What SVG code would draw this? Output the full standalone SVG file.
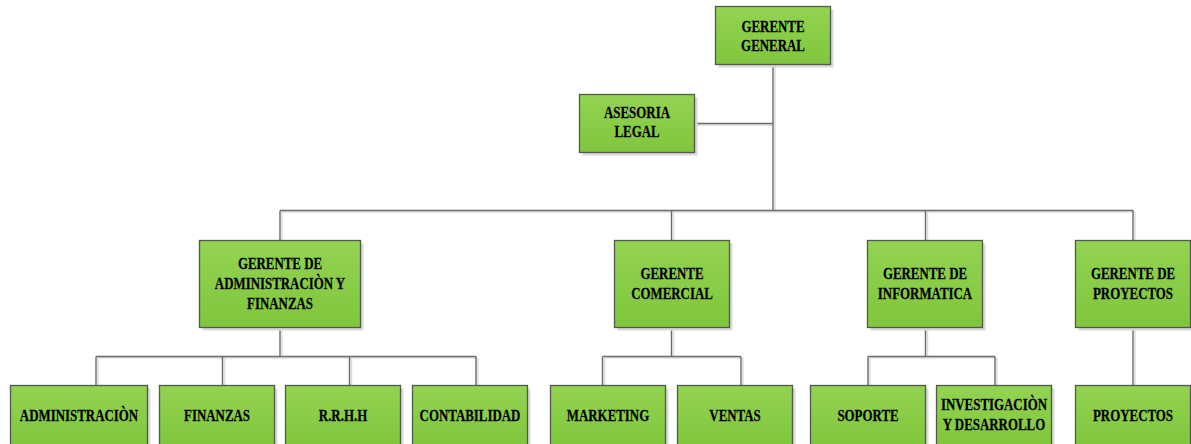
<svg xmlns="http://www.w3.org/2000/svg" width="1191" height="444" viewBox="0 0 1191 444">
<defs>
<linearGradient id="g" x1="0" y1="0" x2="0" y2="1">
<stop offset="0" stop-color="#93d352"/>
<stop offset="1" stop-color="#80c63c"/>
</linearGradient>
<style>
.box{fill:url(#g);stroke:#4f5a48;stroke-width:1.3}
.sh{fill:#d9d9d9}
.ln{fill:none;stroke:#6a6a6a;stroke-width:1.4}
.lns{fill:none;stroke:#dcdcdc;stroke-width:1.4}
.t{font-family:"Liberation Serif","Times New Roman",serif;font-weight:bold;font-size:17px;fill:#000;stroke:#000;stroke-width:0.25;text-anchor:middle}
</style>
</defs>
<rect width="1191" height="444" fill="#fff"/>
<g id="connectors">
<path class="lns" d="M775,66 V212 M696,125 H773 M282,212 H1135 M282,212 V242 M673.5,212 V242 M927.5,212 V242 M1135,212 V242 M282,329 V358 M98,358 H478 M98,358 V387 M224.5,358 V387 M351.5,358 V387 M478,358 V387 M673.5,329 V358 M604.5,358 H743 M604.5,358 V387 M743,358 V387 M927.5,329 V358 M870,358 H997 M870,358 V387 M997,358 V387 M1135,329 V387"/>
<path class="ln" d="M773,64.5 V210.5 M694.5,123.5 H773 M280,210.5 H1133 M280,210.5 V240.5 M671.5,210.5 V240.5 M925.5,210.5 V240.5 M1133,210.5 V240.5 M280,327.5 V356.5 M96,356.5 H476 M96,356.5 V385.5 M222.5,356.5 V385.5 M349.5,356.5 V385.5 M476,356.5 V385.5 M671.5,327.5 V356.5 M602.5,356.5 H741 M602.5,356.5 V385.5 M741,356.5 V385.5 M925.5,327.5 V356.5 M868,356.5 H995 M868,356.5 V385.5 M995,356.5 V385.5 M1133,327.5 V385.5"/>
</g>
<g id="gerente-general">
<rect class="sh" x="718.5" y="9.5" width="115" height="58"/>
<rect class="box" x="715.5" y="6.5" width="115" height="58"/>
<g transform="translate(773,0) scale(0.76,1)"><text class="t" x="0" y="31.7">GERENTE</text><text class="t" x="0" y="50.7">GENERAL</text></g>
</g>
<g id="asesoria-legal">
<rect class="sh" x="582.5" y="97.5" width="115" height="58"/>
<rect class="box" x="579.5" y="94.5" width="115" height="58"/>
<g transform="translate(637,0) scale(0.76,1)"><text class="t" x="0" y="118.3">ASESORIA</text><text class="t" x="0" y="137.3">LEGAL</text></g>
</g>
<g id="gerente-administracion">
<rect class="sh" x="202.5" y="243.5" width="161" height="87"/>
<rect class="box" x="199.5" y="240.5" width="161" height="87"/>
<g transform="translate(280,0) scale(0.76,1)"><text class="t" x="0" y="269">GERENTE DE</text><text class="t" x="0" y="289.3">ADMINISTRACIÒN Y</text><text class="t" x="0" y="309">FINANZAS</text></g>
</g>
<g id="gerente-comercial">
<rect class="sh" x="617.5" y="243.5" width="115" height="87"/>
<rect class="box" x="614.5" y="240.5" width="115" height="87"/>
<g transform="translate(672,0) scale(0.76,1)"><text class="t" x="0" y="279.3">GERENTE</text><text class="t" x="0" y="299.3">COMERCIAL</text></g>
</g>
<g id="gerente-informatica">
<rect class="sh" x="870.5" y="243.5" width="115" height="87"/>
<rect class="box" x="867.5" y="240.5" width="115" height="87"/>
<g transform="translate(925,0) scale(0.76,1)"><text class="t" x="0" y="279.3">GERENTE DE</text><text class="t" x="0" y="299.3">INFORMATICA</text></g>
</g>
<g id="gerente-proyectos">
<rect class="sh" x="1078.5" y="243.5" width="115" height="87"/>
<rect class="box" x="1075.5" y="240.5" width="115" height="87"/>
<g transform="translate(1133,0) scale(0.76,1)"><text class="t" x="0" y="279.3">GERENTE DE</text><text class="t" x="0" y="299.3">PROYECTOS</text></g>
</g>
<g id="administracion">
<rect class="sh" x="13.5" y="388.5" width="137" height="62"/>
<rect class="box" x="10.5" y="385.5" width="137" height="62"/>
<g transform="translate(79,0) scale(0.76,1)"><text class="t" x="0" y="420.7">ADMINISTRACIÒN</text></g>
</g>
<g id="finanzas">
<rect class="sh" x="162.5" y="388.5" width="115" height="62"/>
<rect class="box" x="159.5" y="385.5" width="115" height="62"/>
<g transform="translate(217,0) scale(0.76,1)"><text class="t" x="0" y="420.7">FINANZAS</text></g>
</g>
<g id="rrhh">
<rect class="sh" x="288.5" y="388.5" width="115" height="62"/>
<rect class="box" x="285.5" y="385.5" width="115" height="62"/>
<g transform="translate(343,0) scale(0.76,1)"><text class="t" x="0" y="420.7">R.R.H.H</text></g>
</g>
<g id="contabilidad">
<rect class="sh" x="415.5" y="388.5" width="115" height="62"/>
<rect class="box" x="412.5" y="385.5" width="115" height="62"/>
<g transform="translate(470,0) scale(0.76,1)"><text class="t" x="0" y="420.7">CONTABILIDAD</text></g>
</g>
<g id="marketing">
<rect class="sh" x="553.5" y="388.5" width="115" height="62"/>
<rect class="box" x="550.5" y="385.5" width="115" height="62"/>
<g transform="translate(608,0) scale(0.76,1)"><text class="t" x="0" y="420.7">MARKETING</text></g>
</g>
<g id="ventas">
<rect class="sh" x="680.5" y="388.5" width="115" height="62"/>
<rect class="box" x="677.5" y="385.5" width="115" height="62"/>
<g transform="translate(735,0) scale(0.76,1)"><text class="t" x="0" y="420.7">VENTAS</text></g>
</g>
<g id="soporte">
<rect class="sh" x="813.5" y="388.5" width="115" height="62"/>
<rect class="box" x="810.5" y="385.5" width="115" height="62"/>
<g transform="translate(868,0) scale(0.76,1)"><text class="t" x="0" y="420.7">SOPORTE</text></g>
</g>
<g id="investigacion">
<rect class="sh" x="939.5" y="388.5" width="115" height="62"/>
<rect class="box" x="936.5" y="385.5" width="115" height="62"/>
<g transform="translate(994,0) scale(0.76,1)"><text class="t" x="0" y="410">INVESTIGACIÒN</text><text class="t" x="0" y="430">Y DESARROLLO</text></g>
</g>
<g id="proyectos">
<rect class="sh" x="1078.5" y="388.5" width="115" height="62"/>
<rect class="box" x="1075.5" y="385.5" width="115" height="62"/>
<g transform="translate(1133,0) scale(0.76,1)"><text class="t" x="0" y="420.7">PROYECTOS</text></g>
</g>
</svg>
